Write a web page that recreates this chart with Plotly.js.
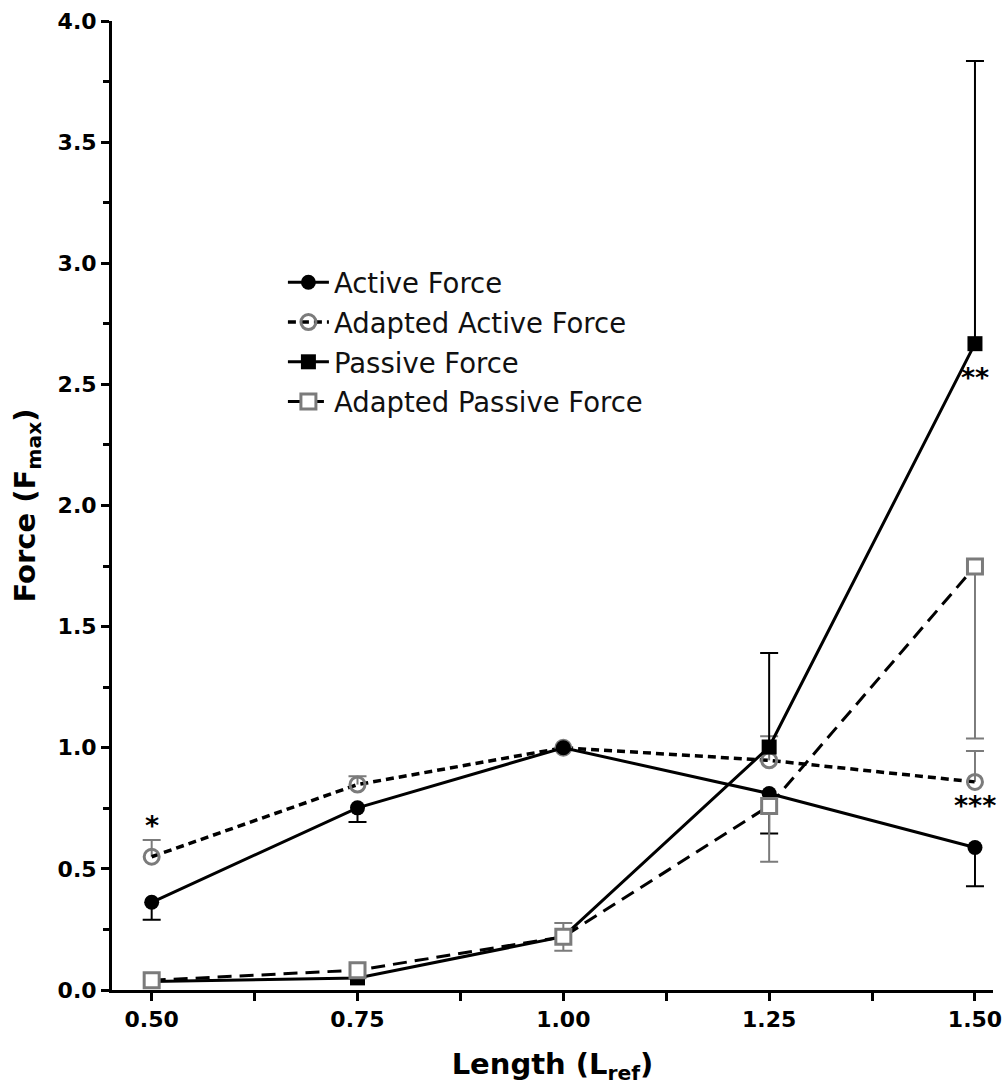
<!DOCTYPE html>
<html>
<head>
<meta charset="utf-8">
<script src="https://cdn.plot.ly/plotly-3.0.1.min.js"></script>
<style>html,body{margin:0;padding:0;background:#fff;}#chart{width:1006px;height:1085px;}</style>
</head>
<body>
<div id="chart"></div>
<script>
// ---- data ----
const lengths = [0.50, 0.75, 1.00, 1.25, 1.50];

const activeForce = [0.362, 0.752, 1.00, 0.811, 0.588];
const activeErrUp = [0, 0, 0, 0, 0];
const activeErrDown = [0.072, 0.058, 0, 0.165, 0.16];

const adaptedActiveForce = [0.55, 0.848, 1.00, 0.948, 0.859];
const adaptedActiveErrUp = [0.069, 0.034, 0, 0.099, 0.128];
const adaptedActiveErrDown = [0, 0, 0, 0, 0];

const passiveForce = [0.035, 0.05, 0.22, 1.003, 2.668];
const passiveErrUp = [0, 0, 0, 0.388, 1.167];
const passiveErrDown = [0, 0, 0, 0, 0];

const adaptedPassiveForce = [0.04, 0.082, 0.22, 0.76, 1.748];
const adaptedPassiveErrUp = [0, 0, 0.057, 0, 0];
const adaptedPassiveErrDown = [0, 0, 0.058, 0.231, 0.71];

const seriesNames = ["Active Force", "Adapted Active Force", "Passive Force", "Adapted Passive Force"];
const xTickVals = [0.50, 0.75, 1.00, 1.25, 1.50];
const xTickText = ["0.50", "0.75", "1.00", "1.25", "1.50"];
const yTickVals = [0, 0.5, 1, 1.5, 2, 2.5, 3, 3.5, 4];
const yTickText = ["0.0", "0.5", "1.0", "1.5", "2.0", "2.5", "3.0", "3.5", "4.0"];

const sigLabels = ["*", "**", "***"];
const sigX = [0.50, 1.50, 1.50];
const sigY = [0.68, 2.53, 0.76];

// ---- styling ----
const GRAY = '#7b7b7b';
const BLACK = '#000000';
const FONT = 'DejaVu Sans, Verdana, sans-serif';

// error-bar helper traces: a capless stem plus caps only at the non-zero ends
function errorTraces(vals, up, down, color) {
  const stem = {
    x: lengths, y: vals, type: 'scatter', mode: 'markers',
    marker: {opacity: 0, size: 1}, showlegend: false, hoverinfo: 'skip', cliponaxis: false,
    error_y: {type: 'data', symmetric: false, array: up, arrayminus: down,
              color: color, thickness: 2, width: 0}
  };
  const cx = [], cy = [];
  lengths.forEach((x, i) => {
    if (up[i] > 0) { cx.push(x); cy.push(vals[i] + up[i]); }
    if (down[i] > 0) { cx.push(x); cy.push(vals[i] - down[i]); }
  });
  const caps = {
    x: cx, y: cy, type: 'scatter', mode: 'markers',
    marker: {opacity: 0, size: 1}, showlegend: false, hoverinfo: 'skip', cliponaxis: false,
    error_y: {type: 'data', symmetric: true, array: cx.map(() => 0),
              color: color, thickness: 2, width: 9}
  };
  return [stem, caps];
}

const traces = [
  ...errorTraces(activeForce, activeErrUp, activeErrDown, BLACK),
  ...errorTraces(adaptedActiveForce, adaptedActiveErrUp, adaptedActiveErrDown, GRAY),
  ...errorTraces(passiveForce, passiveErrUp, passiveErrDown, BLACK),
  ...errorTraces(adaptedPassiveForce, adaptedPassiveErrUp, adaptedPassiveErrDown, GRAY),
  {
    name: seriesNames[1], legendgroup: 'g2', legendrank: 2,
    x: lengths, y: adaptedActiveForce, type: 'scatter', mode: 'lines+markers', cliponaxis: false,
    line: {color: BLACK, width: 3.5, dash: '8px,5px'},
    marker: {symbol: 'circle-open', size: 15, color: GRAY, line: {color: GRAY, width: 3}}
  },
  {
    name: seriesNames[0], legendgroup: 'g1', legendrank: 1,
    x: lengths, y: activeForce, type: 'scatter', mode: 'lines+markers', cliponaxis: false,
    line: {color: BLACK, width: 3},
    marker: {symbol: 'circle', size: 15, color: BLACK}
  },
  {
    name: seriesNames[2], legendgroup: 'g3', legendrank: 3,
    x: lengths, y: passiveForce, type: 'scatter', mode: 'lines+markers', cliponaxis: false,
    line: {color: BLACK, width: 3},
    marker: {symbol: 'square', size: 15, color: BLACK}
  },
  {
    name: seriesNames[3], legendgroup: 'g4', legendrank: 4,
    x: lengths, y: adaptedPassiveForce, type: 'scatter', mode: 'lines+markers', cliponaxis: false,
    line: {color: BLACK, width: 3, dash: '14px,8px'},
    marker: {symbol: 'square', size: 15, color: '#ffffff', line: {color: GRAY, width: 3}}
  }
];

const layout = {
  width: 1006, height: 1085,
  margin: {l: 112, r: 13, t: 21, b: 95},
  paper_bgcolor: '#ffffff', plot_bgcolor: '#ffffff',
  font: {family: FONT, color: BLACK},
  showlegend: true,
  legend: {
    x: 0.194, y: 0.7555, xanchor: 'left', yanchor: 'top',
    bgcolor: 'rgba(0,0,0,0)', borderwidth: 0,
    font: {family: FONT, size: 27.5, color: '#111'},
    traceorder: 'grouped', tracegroupgap: 1, itemwidth: 41
  },
  xaxis: {
    range: [0.4518, 1.5219],
    tickmode: 'array', tickvals: xTickVals, ticktext: xTickText,
    ticks: 'outside', ticklen: 8, tickwidth: 3, tickcolor: BLACK,
    minor: {dtick: 0.125, tick0: 0.5, ticks: 'outside', ticklen: 8, tickwidth: 3, tickcolor: BLACK},
    showline: true, linewidth: 3, linecolor: BLACK,
    showgrid: false, zeroline: false,
    tickfont: {family: FONT, size: 22, color: BLACK, weight: 'bold'},
    title: {text: 'Length (L<sub>ref</sub>)', font: {family: FONT, size: 29, color: BLACK, weight: 'bold'}, standoff: 23}
  },
  yaxis: {
    range: [0, 4],
    tickmode: 'array', tickvals: yTickVals, ticktext: yTickText,
    ticks: 'outside', ticklen: 8, tickwidth: 3, tickcolor: BLACK,
    minor: {dtick: 0.25, tick0: 0, ticks: 'outside', ticklen: 6, tickwidth: 3, tickcolor: BLACK},
    showline: true, linewidth: 3, linecolor: BLACK,
    showgrid: false, zeroline: false,
    tickfont: {family: FONT, size: 22, color: BLACK, weight: 'bold'},
    title: {text: 'Force (F<sub>max</sub>)', font: {family: FONT, size: 29, color: BLACK, weight: 'bold'}, standoff: 14}
  },
  annotations: sigLabels.map((t, i) => ({
    x: sigX[i], y: sigY[i], xref: 'x', yref: 'y', text: t, showarrow: false,
    xanchor: 'center', yanchor: 'middle',
    font: {family: FONT, size: 27, color: BLACK, weight: 'bold'}
  }))
};

Plotly.newPlot('chart', traces, layout, {displayModeBar: false, staticPlot: true});
</script>
</body>
</html>
